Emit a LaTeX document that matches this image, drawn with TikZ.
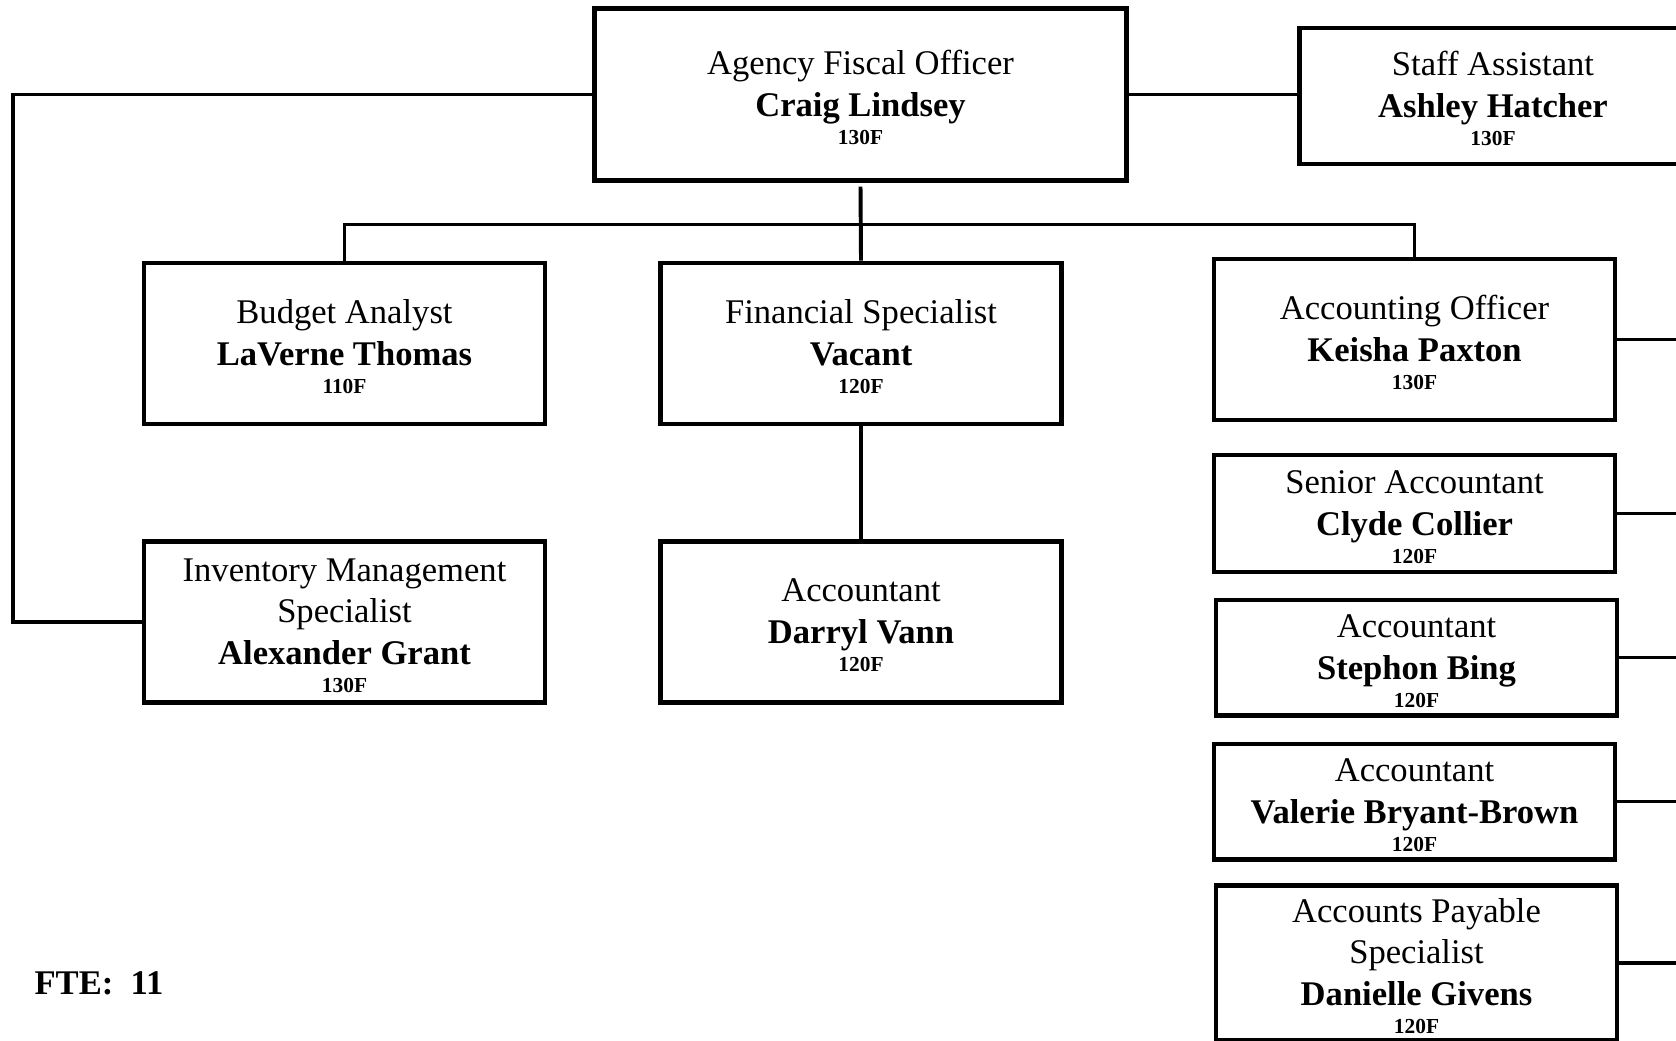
\documentclass[tikz,border=0pt]{standalone}
\usepackage{fontspec}
\setmainfont{Liberation Serif}
\newcommand{\orgpos}[3]{\rule{0pt}{10.7pt}#1\\\textbf{#2}\\[-4.7pt]{\fontsize{7.6}{8}\selectfont\bfseries #3}}
\begin{document}
\begin{tikzpicture}[x=0.0125cm,y=-0.0125cm]
\tikzstyle{every node}+=[inner sep=0pt]
\tikzstyle{post}=[draw=black,line width=1.7pt,align=center,font=\fontsize{12.3}{14.8}\selectfont]
\tikzstyle{wide}=[post,minimum width=5.01cm,minimum height=2.01cm]
\tikzstyle{slim}=[post,minimum width=5.01cm,minimum height=1.44cm]
\tikzstyle{link}=[black,line width=1.4pt]
\useasboundingbox (0,0) rectangle (1676,1040);
\clip (0,0) rectangle (1676,1040);
\node [post,minimum width=6.64cm,minimum height=2.14cm] (afo) at (860.5,94.5) {\orgpos{Agency Fiscal Officer}{Craig Lindsey}{130F}};
\node [post,minimum width=4.83cm,minimum height=1.7cm] (sa) at (1493,96) {\orgpos{Staff Assistant}{Ashley Hatcher}{130F}};
\node [wide] (ba) at (344.5,343.5) {\orgpos{Budget Analyst}{LaVerne Thomas}{110F}};
\node [wide] (fs) at (861,343.5) {\orgpos{Financial Specialist}{Vacant}{120F}};
\node [wide] (ao) at (1414.5,339.5) {\orgpos{Accounting Officer}{Keisha Paxton}{130F}};
\node [wide] (ims) at (344.5,622) {\orgpos{Inventory Management\\Specialist}{Alexander Grant}{130F}};
\node [wide] (dv) at (861,622) {\orgpos{Accountant}{Darryl Vann}{120F}};
\node [slim,minimum height=1.46cm] (sen) at (1414.5,513.5) {\orgpos{Senior Accountant}{Clyde Collier}{120F}};
\node [slim] (sb) at (1416.5,657.5) {\orgpos{Accountant}{Stephon Bing}{120F}};
\node [slim] (vbb) at (1414.5,801.5) {\orgpos{Accountant}{Valerie Bryant-Brown}{120F}};
\node [slim,minimum height=1.93cm] (aps) at (1416.5,963) {\orgpos{Accounts Payable\\Specialist}{Danielle Givens}{120F}};
\node [anchor=west,font=\fontsize{12.3}{14}\selectfont\bfseries] (fte) at (34,983) {FTE:\ \ 11};
\coordinate (lft) at (13,0);
\coordinate (rgt) at (1676,0);
\coordinate (bus) at (0,224.5);
\draw [link] (afo.west) -- (afo.west -| lft) |- (ims.west);
\draw [link] (afo.east) -- (afo.east -| sa.west);
\draw [link] ([yshift=-1.5pt]afo.south) -- (fs.north);
\draw [link] (ba.north) -- (ba.north |- bus) -- (ao.north |- bus) -- (ao.north);
\draw [link] (fs.south) -- (dv.north);
\foreach \n in {ao,sen,sb,vbb,aps}
  \draw [link] (\n.east) -- (\n.east -| rgt);
\end{tikzpicture}
\end{document}
